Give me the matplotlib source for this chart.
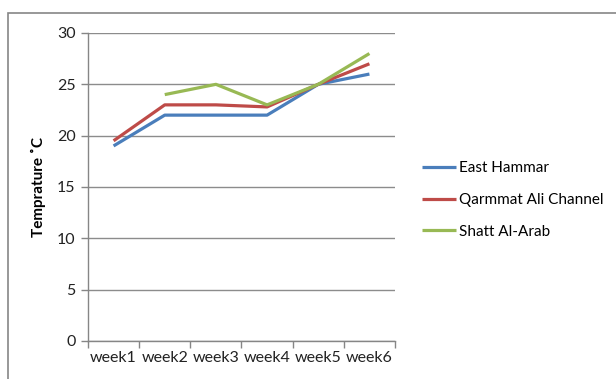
import matplotlib
matplotlib.use("Agg")
import matplotlib.pyplot as plt
from matplotlib.patches import Rectangle
import numpy as np

weeks = ["week1", "week2", "week3", "week4", "week5", "week6"]
east_hammar = [19, 22, 22, 22, 25, 26]
qarmmat_ali = [19.5, 23, 23, 22.8, 25, 27]
shatt_al_arab = [np.nan, 24, 25, 23, 25, 28]
series_names = ["East Hammar", "Qarmmat Ali Channel", "Shatt Al-Arab"]
series_colors = ["#4A7EBB", "#BE4B48", "#98B954"]
y_ticks = [0, 5, 10, 15, 20, 25, 30]

plt.rcParams["font.family"] = ["Lato", "DejaVu Sans"]

W, H = 616, 379
fig = plt.figure(figsize=(W / 100, H / 100), dpi=100)

# outer chart frame
fig.patches.append(Rectangle((8 / W, -0.1), 1.2, 1 - 13 / H + 0.1,
                             transform=fig.transFigure, fill=False,
                             edgecolor="#868686", linewidth=1.2))

left, right, top, bottom = 88, 395, 33, 341
ax = fig.add_axes([left / W, 1 - bottom / H, (right - left) / W, (bottom - top) / H])

x = np.arange(len(weeks))
for vals, name, col in zip([east_hammar, qarmmat_ali, shatt_al_arab], series_names, series_colors):
    ax.plot(x, vals, color=col, linewidth=2.3, label=name, solid_capstyle="butt")

ax.set_xlim(-0.5, len(weeks) - 0.5)
ax.set_ylim(0, 30)
ax.set_yticks(y_ticks)
ax.set_xticks(x)
ax.set_xticklabels(weeks)
ax.set_xticks(np.arange(len(weeks) + 1) - 0.5, minor=True)
ax.tick_params(axis="x", which="major", length=0, pad=7, labelsize=11.5, colors="#222222")
ax.tick_params(axis="x", which="minor", length=5, color="#868686", width=1)
ax.tick_params(axis="y", length=5, color="#868686", width=1, pad=4, labelsize=11.5, labelcolor="#222222")
ax.grid(axis="y", color="#8c8c8c", linewidth=1)
ax.set_axisbelow(True)
for s in ["top", "right"]:
    ax.spines[s].set_visible(False)
for s in ["left", "bottom"]:
    ax.spines[s].set_color("#868686")
    ax.spines[s].set_linewidth(1)

ax.set_ylabel("Temprature ˚C", fontsize=11, fontweight="bold", labelpad=8)

leg = ax.legend(loc="center left", frameon=False, borderpad=0, borderaxespad=0,
                fontsize=11, handlelength=2.2, handletextpad=0.2, labelspacing=1.15)
leg.set_bbox_to_anchor((422 / W, 1 - 200 / H), transform=fig.transFigure)

fig.savefig("out.png", dpi=100)
